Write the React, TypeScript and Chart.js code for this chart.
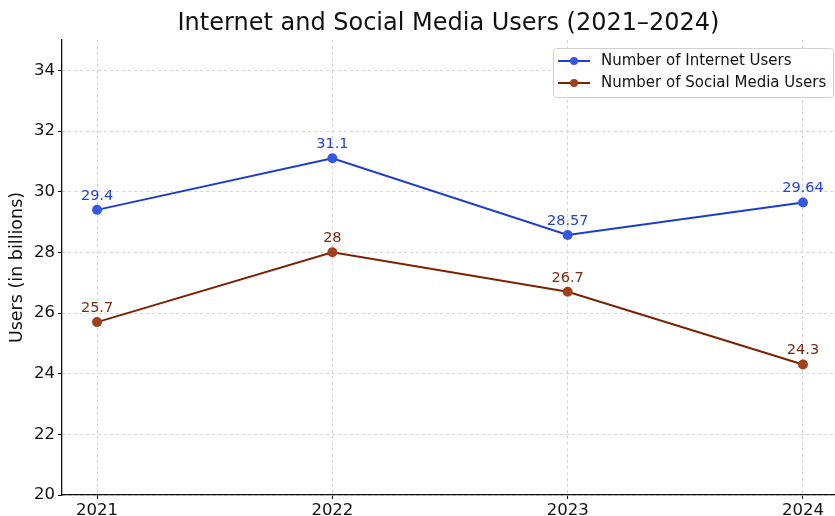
import React, { useEffect, useRef } from "react";
import { Chart, registerables } from "chart.js";

Chart.register(...registerables);

const years = [2021, 2022, 2023, 2024];
const internetUsers = [29.4, 31.1, 28.57, 29.64];
const socialUsers = [25.7, 28.0, 26.7, 24.3];
const yTicks = [20, 22, 24, 26, 28, 30, 32, 34];
const seriesNames = ["Number of Internet Users", "Number of Social Media Users"];
const titleText = "Internet and Social Media Users (2021–2024)";

const FONT = "'DejaVu Sans', sans-serif";

const lineColors = ["#1c3dcc", "#7a2204"];
const markerColors = ["#3558e0", "#a0401c"];
const labelColors = ["#2444d0", "#7a2a0e"];

const pointLabels = {
  id: "pointLabels",
  afterDatasetsDraw(chart: any) {
    const ctx = chart.ctx;
    ctx.save();
    ctx.font = `14.5px ${FONT}`;
    ctx.textAlign = "center";
    ctx.textBaseline = "middle";
    chart.data.datasets.forEach((ds: any, i: number) => {
      const meta = chart.getDatasetMeta(i);
      ctx.fillStyle = labelColors[i];
      meta.data.forEach((pt: any, j: number) => {
        const v = ds.data[j].y;
        ctx.fillText(String(v), pt.x, pt.y - 14);
      });
    });
    ctx.restore();
  },
};

const titlePlugin = {
  id: "plotTitle",
  afterDraw(chart: any) {
    const ctx = chart.ctx;
    const a = chart.chartArea;
    ctx.save();
    ctx.font = `24px ${FONT}`;
    ctx.fillStyle = "#111";
    ctx.textAlign = "center";
    ctx.textBaseline = "middle";
    ctx.fillText(titleText, (a.left + a.right) / 2, 24);
    ctx.restore();
  },
};

const customLegend = {
  id: "customLegend",
  afterDraw(chart: any) {
    const ctx = chart.ctx;
    const x = 553, y = 48, w = 280, h = 49;
    ctx.save();
    ctx.fillStyle = "rgba(255,255,255,0.85)";
    ctx.strokeStyle = "#d0d0d0";
    ctx.lineWidth = 1;
    ctx.beginPath();
    if (ctx.roundRect) ctx.roundRect(x + 0.5, y + 0.5, w, h, 3);
    else ctx.rect(x + 0.5, y + 0.5, w, h);
    ctx.fill();
    ctx.stroke();
    ctx.font = `15px ${FONT}`;
    ctx.textBaseline = "middle";
    ctx.textAlign = "left";
    seriesNames.forEach((name, i) => {
      const ry = y + 13 + i * 22;
      ctx.strokeStyle = lineColors[i];
      ctx.lineWidth = 2;
      ctx.beginPath();
      ctx.moveTo(558, ry);
      ctx.lineTo(590, ry);
      ctx.stroke();
      ctx.fillStyle = markerColors[i];
      ctx.beginPath();
      ctx.arc(574, ry, 4, 0, Math.PI * 2);
      ctx.fill();
      ctx.fillStyle = "#111";
      ctx.fillText(name, 601, ry);
    });
    ctx.restore();
  },
};

export default function App() {
  const ref = useRef<HTMLCanvasElement>(null);
  useEffect(() => {
    document.body.style.margin = "0";
    const mk = (vals: number[]) => years.map((yr, i) => ({ x: yr, y: vals[i] }));
    const chart = new Chart(ref.current!, {
      type: "line",
      data: {
        datasets: [
          {
            label: seriesNames[0],
            data: mk(internetUsers),
            borderColor: lineColors[0],
            backgroundColor: markerColors[0],
            pointBackgroundColor: markerColors[0],
            pointBorderColor: markerColors[0],
            borderWidth: 2,
            pointRadius: 4,
            tension: 0,
          },
          {
            label: seriesNames[1],
            data: mk(socialUsers),
            borderColor: lineColors[1],
            backgroundColor: markerColors[1],
            pointBackgroundColor: markerColors[1],
            pointBorderColor: markerColors[1],
            borderWidth: 2,
            pointRadius: 4,
            tension: 0,
          },
        ],
      },
      options: {
        animation: false,
        responsive: false,
        layout: { autoPadding: false, padding: { left: 0, right: 0, top: 40, bottom: 0 } } as any,
        plugins: {
          legend: { display: false },
          tooltip: { enabled: false },
          title: { display: false },
        },
        scales: {
          x: {
            type: "linear",
            min: 2020.851,
            max: 2024.136,
            afterBuildTicks: (s: any) => {
              s.ticks = years.map((v) => ({ value: v }));
            },
            afterFit: (s: any) => {
              s.height = 21;
              s.paddingLeft = 0;
              s.paddingRight = 0;
            },
            ticks: {
              font: { family: FONT, size: 16.5 },
              color: "#111",
              padding: 2,
              maxRotation: 0,
              callback: (v: any) => String(v),
            },
            grid: {
              color: "#d4d4d4",
              tickBorderDash: [],
              tickColor: "#111",
              tickLength: 4,
              lineWidth: 1,
            } as any,
            border: { display: true, color: "#111", width: 1.3, dash: [3, 3] } as any,
          },
          y: {
            min: 20,
            max: 35,
            afterBuildTicks: (s: any) => {
              s.ticks = yTicks.map((v) => ({ value: v }));
            },
            afterFit: (s: any) => {
              s.width = 62;
              s.paddingTop = 0;
              s.paddingBottom = 0;
            },
            ticks: {
              font: { family: FONT, size: 16.5 },
              color: "#111",
              padding: 3,
            },
            grid: {
              color: "#d4d4d4",
              tickBorderDash: [],
              tickColor: "#111",
              tickLength: 4,
              lineWidth: 1,
            } as any,
            border: { display: true, color: "#111", width: 1.3, dash: [3, 3] } as any,
            title: {
              display: true,
              text: "Users (in billions)",
              color: "#111",
              font: { family: FONT, size: 17.5 },
              padding: { top: 7, bottom: 0 },
            },
          },
        },
      },
      plugins: [pointLabels, customLegend, titlePlugin],
    });
    return () => chart.destroy();
  }, []);
  return (
    <div style={{ width: 835, height: 516 }}>
      <canvas ref={ref} width={835} height={516} style={{ display: "block" }} />
    </div>
  );
}
